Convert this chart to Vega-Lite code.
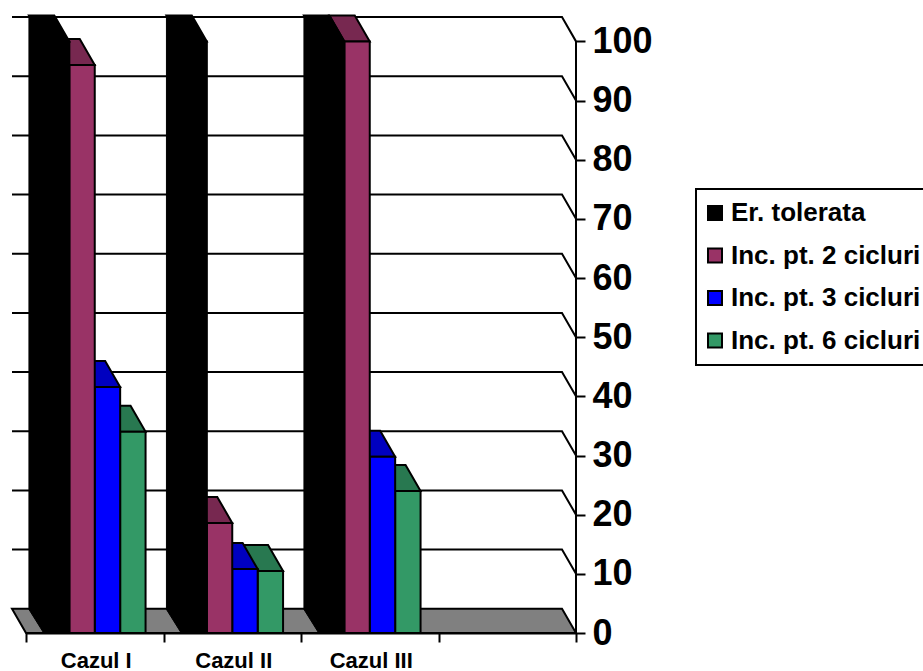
{
  "$schema": "https://vega.github.io/schema/vega-lite/v6.json",
  "autosize": {"type": "none"},
  "padding": {"left": 12, "top": 14, "right": 347, "bottom": 38},
  "width": 564,
  "height": 619,
  "background": "white",
  "datasets": {
    "bars": [
      {"caz": "Cazul I", "serie": "Inc. pt. 6 cicluri", "val": 34},
      {"caz": "Cazul II", "serie": "Inc. pt. 6 cicluri", "val": 10.5},
      {"caz": "Cazul III", "serie": "Inc. pt. 6 cicluri", "val": 24},
      {"caz": "Cazul I", "serie": "Inc. pt. 3 cicluri", "val": 41.6},
      {"caz": "Cazul II", "serie": "Inc. pt. 3 cicluri", "val": 10.8},
      {"caz": "Cazul III", "serie": "Inc. pt. 3 cicluri", "val": 29.8},
      {"caz": "Cazul I", "serie": "Inc. pt. 2 cicluri", "val": 96},
      {"caz": "Cazul II", "serie": "Inc. pt. 2 cicluri", "val": 18.6},
      {"caz": "Cazul III", "serie": "Inc. pt. 2 cicluri", "val": 100},
      {"caz": "Cazul I", "serie": "Er. tolerata", "val": 100},
      {"caz": "Cazul II", "serie": "Er. tolerata", "val": 100},
      {"caz": "Cazul III", "serie": "Er. tolerata", "val": 100}
    ],
    "grid": [
      {"v": 10}, {"v": 20}, {"v": 30}, {"v": 40}, {"v": 50},
      {"v": 60}, {"v": 70}, {"v": 80}, {"v": 90}, {"v": 100}
    ],
    "floor": [{"v": 0}]
  },
  "encoding": {
    "y": {
      "type": "quantitative",
      "scale": {"domain": [0, 104.63], "nice": false, "zero": true},
      "axis": {
        "orient": "right",
        "title": null,
        "values": [0, 10, 20, 30, 40, 50, 60, 70, 80, 90, 100],
        "grid": false,
        "domain": false,
        "tickColor": "black",
        "tickWidth": 2,
        "tickSize": 9,
        "labelColor": "black",
        "labelFont": "Liberation Sans",
        "labelFontWeight": "bold",
        "labelFontSize": 36,
        "labelPadding": 7,
        "labelAlign": "left"
      }
    }
  },
  "layer": [
    {
      "data": {"name": "floor"},
      "mark": {"type": "point", "filled": true, "opacity": 1, "size": 4, "fill": "#808080", "stroke": "black", "strokeWidth": 2,
        "shape": "M-282,-24.3L268,-24.3L282,0L-268,0Z"},
      "encoding": {"y": {"field": "v", "type": "quantitative"}}
    },
    {
      "data": {"name": "grid"},
      "mark": {"type": "point", "filled": false, "opacity": 1, "size": 4, "stroke": "black", "strokeWidth": 2,
        "shape": "M-282,-24.3L268,-24.3L282,0L282,59.16"},
      "encoding": {"y": {"field": "v", "type": "quantitative"}}
    },
    {
      "data": {"name": "bars"},
      "transform": [{"filter": "datum.serie === 'Er. tolerata'"}],
      "mark": {"type": "point", "filled": true, "opacity": 1, "size": 4, "fill": "black", "stroke": "black", "strokeWidth": 1,
        "shape": "M-12.7,0L-27.7,-26L-27.7,568L-12.7,592Z"},
      "encoding": {
        "x": {"field": "caz", "type": "nominal"},
        "xOffset": {"field": "serie", "type": "nominal"},
        "y": {"field": "val", "type": "quantitative"}
      }
    },
    {
      "data": {"name": "bars"},
      "mark": {"type": "point", "filled": true, "opacity": 1, "size": 4, "stroke": "black", "strokeWidth": 2,
        "shape": "M-12.7,0L12.7,0L-2.3,-26L-27.7,-26Z"},
      "encoding": {
        "x": {"field": "caz", "type": "nominal"},
        "xOffset": {"field": "serie", "type": "nominal"},
        "y": {"field": "val", "type": "quantitative"},
        "fill": {
          "field": "serie",
          "type": "nominal",
          "scale": {
            "domain": ["Inc. pt. 6 cicluri", "Inc. pt. 3 cicluri", "Inc. pt. 2 cicluri", "Er. tolerata"],
            "range": ["#287850", "#0000C0", "#772850", "#000000"]
          },
          "legend": null
        }
      }
    },
    {
      "data": {"name": "bars"},
      "mark": {"type": "bar", "stroke": "black", "strokeWidth": 2},
      "encoding": {
        "x": {
          "field": "caz",
          "type": "nominal",
          "sort": null,
          "scale": {
            "domain": ["Cazul I", "Cazul II", "Cazul III", " "],
            "range": [14, 564],
            "paddingInner": 0,
            "paddingOuter": 0
          },
          "axis": {
            "title": null,
            "labelAngle": 0,
            "labelAlign": "center",
            "labelBaseline": "top",
            "labelColor": "black",
            "labelFont": "Liberation Sans",
            "labelFontWeight": "bold",
            "labelFontSize": 22,
            "labelPadding": 8,
            "labelOffset": 1,
            "tickBand": "extent",
            "tickColor": "black",
            "tickWidth": 2,
            "tickSize": 9,
            "domainColor": "black",
            "domainWidth": 2,
            "grid": false
          }
        },
        "xOffset": {
          "field": "serie",
          "type": "nominal",
          "scale": {
            "domain": ["Er. tolerata", "Inc. pt. 2 cicluri", "Inc. pt. 3 cicluri", "Inc. pt. 6 cicluri"],
            "paddingInner": 0,
            "paddingOuter": 0.706
          }
        },
        "y": {"field": "val", "type": "quantitative"},
        "color": {
          "field": "serie",
          "type": "nominal",
          "scale": {
            "domain": ["Er. tolerata", "Inc. pt. 2 cicluri", "Inc. pt. 3 cicluri", "Inc. pt. 6 cicluri"],
            "range": ["#000000", "#993366", "#0000FF", "#339966"]
          },
          "legend": {
            "title": null,
            "orient": "none",
            "legendX": 684,
            "legendY": 175,
            "padding": 11,
            "strokeColor": "black",
            "symbolType": "square",
            "symbolSize": 196,
            "symbolOffset": -5,
            "symbolStrokeColor": "black",
            "symbolStrokeWidth": 2,
            "labelFont": "Liberation Sans",
            "labelFontWeight": "bold",
            "labelFontSize": 26,
            "labelColor": "black",
            "labelOffset": 3,
            "labelLimit": 400,
            "rowPadding": 16.5
          }
        }
      }
    }
  ],
  "resolve": {"scale": {"x": "shared", "y": "shared"}},
  "config": {"view": {"stroke": null}, "legend": {"strokeWidth": 2}}
}
